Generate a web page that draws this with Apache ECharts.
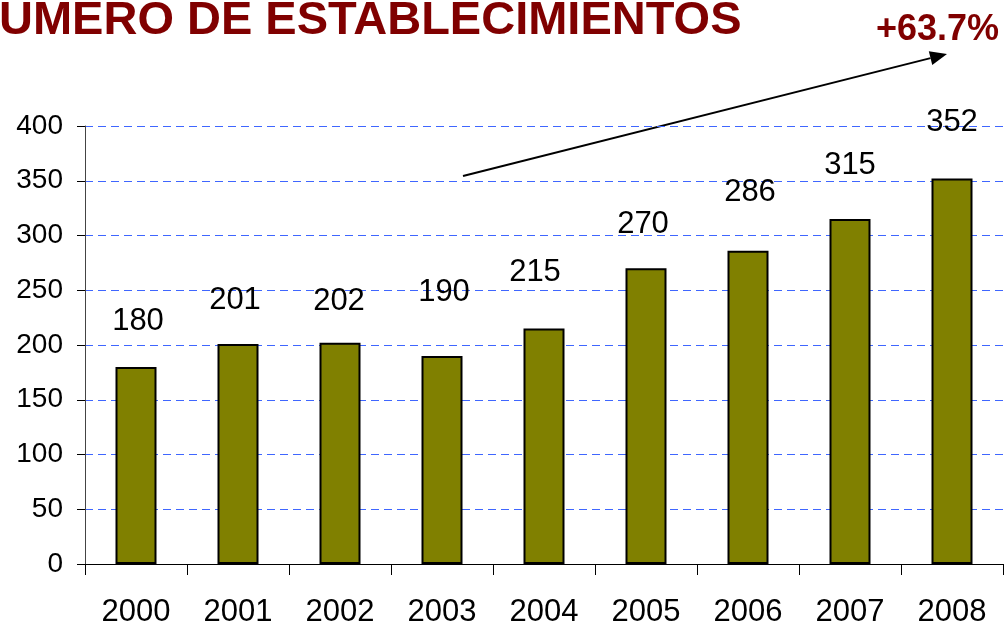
<!DOCTYPE html>
<html>
<head>
<meta charset="utf-8">
<script src="https://cdn.jsdelivr.net/npm/echarts@6/dist/echarts.min.js"></script>
<style>
    html, body { margin: 0; padding: 0; background: #fff; }
    #main { width: 1005px; height: 626px; }
</style>
</head>
<body>
<div id="main"></div>
<script>
    var years = ["2000", "2001", "2002", "2003", "2004", "2005", "2006", "2007", "2008"];
    var establecimientos = [180, 201, 202, 190, 215, 270, 286, 315, 352];
    var yTicks = [0, 50, 100, 150, 200, 250, 300, 350, 400];

    // label placement as in the original slide (px above bar top / sideways)
    var labelLift = [47, 45, 43, 65, 58, 46, 60, 56, 58];
    var labelShiftX = [2, -3, -1, 2, -9, -3, 2, 0, 0];

    var font = "'Liberation Sans', Arial, sans-serif";

    var barData = establecimientos.map(function (v, i) {
        return {
            value: v,
            label: {
                distance: labelLift[i] - 17,
                offset: [labelShiftX[i], 0],
            },
        };
    });

    // trend arrow
    var arrowFrom = [463, 176];
    var arrowTo = [947, 54];
    var dx = arrowTo[0] - arrowFrom[0];
    var dy = arrowTo[1] - arrowFrom[1];
    var len = Math.sqrt(dx * dx + dy * dy);
    var ux = dx / len, uy = dy / len;
    var headLen = 17, headHalf = 7;
    var base = [arrowTo[0] - ux * headLen, arrowTo[1] - uy * headLen];

    var option = {
        animation: false,
        textStyle: { fontFamily: font },
        grid: {
            left: 85,
            right: 2,
            top: 126,
            bottom: 62,
            outerBoundsMode: "none",
        },
        xAxis: {
            type: "category",
            data: years,
            axisLine: { lineStyle: { color: "#000", width: 1 } },
            axisTick: {
                show: true,
                length: 11,
                lineStyle: { color: "#000" },
            },
            axisLabel: {
                color: "#000",
                fontSize: 31,
                fontFamily: font,
                margin: 33,
            },
        },
        yAxis: {
            type: "value",
            min: yTicks[0],
            max: yTicks[yTicks.length - 1],
            interval: 50,
            axisLine: { show: true, lineStyle: { color: "#444", width: 1 } },
            axisTick: {
                show: true,
                length: 8,
                lineStyle: { color: "#000" },
            },
            axisLabel: {
                color: "#000",
                fontSize: 28,
                fontFamily: font,
                margin: 22,
            },
            splitLine: {
                show: true,
                lineStyle: {
                    color: "#3f66ff",
                    type: [8, 5],
                    width: 1,
                },
            },
        },
        series: [
            {
                type: "bar",
                data: barData,
                barWidth: 41,
                itemStyle: {
                    color: "#808000",
                    borderColor: "#000",
                    borderWidth: 2,
                },
                label: {
                    show: true,
                    position: "top",
                    color: "#000",
                    fontSize: 31,
                    lineHeight: 30,
                    fontFamily: font,
                },
            },
        ],
        graphic: [
            {
                type: "text",
                left: -1,
                top: -2,
                style: {
                    text: "UMERO DE ESTABLECIMIENTOS",
                    fill: "#800000",
                    font: "bold 47px " + font,
                },
            },
            {
                type: "text",
                right: 6,
                top: 12,
                style: {
                    text: "+63.7%",
                    fill: "#800000",
                    font: "bold 36px " + font,
                },
            },
            {
                type: "line",
                shape: {
                    x1: arrowFrom[0],
                    y1: arrowFrom[1],
                    x2: base[0],
                    y2: base[1],
                },
                style: { stroke: "#000", lineWidth: 2 },
            },
            {
                type: "polygon",
                shape: {
                    points: [
                        arrowTo,
                        [base[0] - uy * headHalf, base[1] + ux * headHalf],
                        [base[0] + uy * headHalf, base[1] - ux * headHalf],
                    ],
                },
                style: { fill: "#000" },
            },
        ],
    };

    var myChart = echarts.init(document.getElementById("main"));
    myChart.setOption(option);
</script>
</body>
</html>
